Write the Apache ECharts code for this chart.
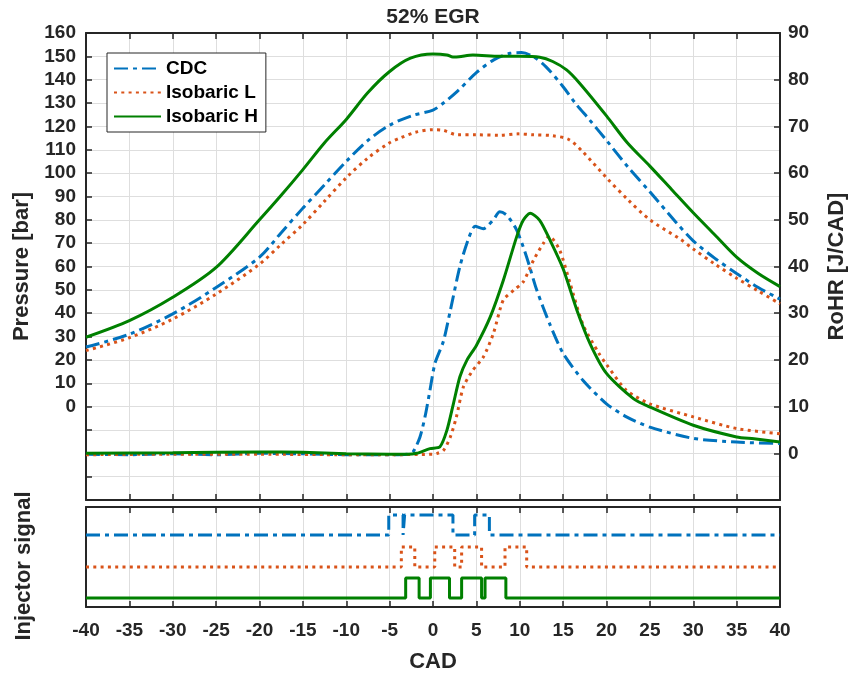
<!DOCTYPE html>
<html><head><meta charset="utf-8">
<script src="https://cdn.jsdelivr.net/npm/echarts@6/dist/echarts.min.js"></script>
<style>html,body{margin:0;padding:0;background:#fff}#c{width:850px;height:673px}</style>
</head><body><div id="c"></div>
<script>
// ---------- DATA ----------
const chartTitle = '52% EGR';
const seriesNames = ['CDC', 'Isobaric L', 'Isobaric H'];
const xLabel = 'CAD';
const yLeftLabel = 'Pressure [bar]';
const yRightLabel = 'RoHR [J/CAD]';
const injLabel = 'Injector signal';

// Pressure [bar] vs CAD
const pCadCDC = [-40,-35,-30,-25,-20,-17.5,-15,-12.5,-10,-7.5,-5,-2.5,0,1.2,2.8,5,7,8.9,10.2,11.5,13,15,16.5,18,20,22.5,25,28,30,32.5,35,37.5,40];
const pCDC    = [25.5,31,39.7,51,64,74.5,85,95,105,114,120.5,124.5,127,130,135,143,148.5,151.3,151.6,150,145.6,137,129.5,123,114,102.5,92,79,71,63.5,57,51,46];

const pCadIsoL = [-40,-35,-30,-25,-20,-17.5,-15,-12.5,-10,-7.5,-5,-3.8,-2,0,1.2,2.8,5,7.7,9.8,11.5,13.8,15.7,17.3,20,22.5,25,28.5,30,32.5,35,37.5,40];
const pIsoL    = [24,29.5,37.5,48.2,61,69.5,78,88,98,106.5,113,115,117.5,118.6,118.3,116.4,116.4,116.2,116.8,116.4,116,114.3,109,98,88.5,80,71.7,67.5,61,55,49.5,44];

const pCadIsoH = [-40,-35,-30,-25,-20,-17.5,-15,-12.5,-10,-7.5,-5,-2.6,0,1.6,2.3,3,4.6,7.7,10,12.3,13.8,15.4,16.9,20,22.4,25,27.5,30,32.5,35,37.5,40];
const pIsoH    = [29.7,36.8,46.8,59.6,80,90.5,101.5,113,123,134.5,143.5,149.2,151,150.6,149.7,149.8,150.6,150,150,149.6,147.8,144.2,138.5,124.5,113,103,93,83,73.5,64,57,51.4];

// RoHR [J/CAD] vs CAD
const rCadCDC = [-40,-35,-30,-25,-20,-15,-10,-5,-3,-2.3,-1.5,-0.9,-0.35,0.23,1.2,2,3.1,4.1,4.85,5.8,6.95,7.7,8.5,9.65,10.8,11.95,13.5,15,17.3,20,22.3,25,30,35,40];
const rCDC    = [-0.2,-0.3,-0.1,-0.3,0,-0.1,-0.3,-0.3,-0.2,0.3,3.5,8,13.5,19.3,24,30.6,40,46,48.6,48.1,50,51.7,51,47.8,42,35,27.5,21.4,15.6,10.6,7.8,5.6,3.2,2.4,2.1];

const rCadIsoL = [-40,-30,-20,-10,-5,0,0.5,1.2,2,2.7,3.5,4.6,5.8,6.95,8.1,9.3,10.4,11.6,12.7,13.4,14.6,15.8,17.3,19.1,20,22.3,25,30,35,40];
const rIsoL    = [-0.3,-0.2,-0.2,-0.3,-0.3,-0.2,0,0.6,3.5,7.8,14.2,17.8,20.6,25.6,32.8,34.9,36.7,41.4,44.9,46.5,43.5,36.4,27.5,21.5,19,13.5,10.6,7.8,5.3,4.2];

const rCadIsoH = [-40,-30,-20,-15,-10,-5,-3,-1.9,-0.35,0.8,1.6,2.35,3.1,3.9,5,6.6,8.1,9.65,10.4,11.2,12.3,13.5,15,16.6,18.1,20,23.1,25,30,35,37,40];
const rIsoH    = [0,0.1,0.3,0.2,-0.1,-0.2,-0.2,0,1,1.4,4.9,10.6,16.4,19.9,23.1,29.2,37,46.4,49.9,51.4,49.9,45.6,39.5,30.6,23.5,17.1,11.7,9.9,6,3.5,3.1,2.4];

// Injector signal: pulse [start, end] in CAD, and [low, high] signal levels
const injPulsesCDC  = [[-5.1,-3.45],[-3.27,2.3],[4.8,6.5]];
const injPulsesIsoL = [[-3.65,-2.1],[0.2,2.5],[3.3,5.6],[8.3,10.8]];
const injPulsesIsoH = [[-3.15,-1.6],[-0.3,1.9],[3.3,5.6],[6.0,8.4]];
const injLevelsCDC  = [72, 92];
const injLevelsIsoL = [40, 60];
const injLevelsIsoH = [9, 29];

const xTicks = { min: -40, max: 40, step: 5 };

// ---------- BUILD ----------
const zip = (xs, ys) => xs.map((x, i) => [x, ys[i]]);
function stepLine(pulses, levels) {
  const lo = levels[0], hi = levels[1];
  const pts = [[xTicks.min, lo]];
  pulses.forEach(([a, b]) => { pts.push([a, lo], [a, hi], [b, hi], [b, lo]); });
  pts.push([xTicks.max, lo]);
  return pts;
}

const FONT = "'Liberation Sans', Arial, sans-serif";
const AX = '#262626';
const GRIDC = '#dedede';
const colors = ['#0072BD', '#D95319', '#008000'];
const lineTypes = [[14, 5, 4, 5], [3, 4.3], 'solid'];
const LW = 3;

function lineSeries(name, idx, data, xi, yi, smooth) {
  return {
    name, type: 'line', xAxisIndex: xi, yAxisIndex: yi, data,
    symbol: 'none', showSymbol: false, smooth: smooth, animation: false,
    lineStyle: { color: colors[idx], width: LW, type: lineTypes[idx], cap: 'butt' },
    itemStyle: { color: colors[idx] },
    z: 2 + idx
  };
}

const lbl = { fontFamily: FONT, fontWeight: 'bold', fontSize: 19, color: AX };
const axLine = { show: true, onZero: false, lineStyle: { color: AX, width: 2 } };
const axTick = { show: true, inside: true, length: 6, lineStyle: { color: AX, width: 1.5 } };

const chart = echarts.init(document.getElementById('c'), null, { renderer: 'canvas' });
chart.setOption({
  backgroundColor: '#fff',
  animation: false,
  grid: [
    { left: 86, top: 33, width: 694, height: 467, containLabel: false, outerBoundsMode: 'none' },
    { left: 86, top: 507, width: 694, height: 100, containLabel: false, outerBoundsMode: 'none' }
  ],
  xAxis: [
    { gridIndex: 0, type: 'value', min: xTicks.min, max: xTicks.max, interval: xTicks.step, position: 'bottom',
      axisLine: axLine, axisTick: axTick,
      axisLabel: { show: false }, splitLine: { show: true, lineStyle: { color: GRIDC, width: 1 } } },
    { gridIndex: 0, type: 'value', min: xTicks.min, max: xTicks.max, interval: xTicks.step, position: 'top',
      axisLine: axLine, axisTick: axTick,
      axisLabel: { show: false }, splitLine: { show: false } },
    { gridIndex: 1, type: 'value', min: xTicks.min, max: xTicks.max, interval: xTicks.step, position: 'bottom',
      name: xLabel, nameLocation: 'middle', nameGap: 44,
      nameTextStyle: { fontFamily: FONT, fontWeight: 'bold', fontSize: 22, color: AX },
      axisLine: axLine, axisTick: axTick,
      axisLabel: Object.assign({ margin: 14 }, lbl), splitLine: { show: true, lineStyle: { color: GRIDC, width: 1 } } },
    { gridIndex: 1, type: 'value', min: xTicks.min, max: xTicks.max, interval: xTicks.step, position: 'top',
      axisLine: axLine, axisTick: axTick,
      axisLabel: { show: false }, splitLine: { show: false } }
  ],
  yAxis: [
    { gridIndex: 0, type: 'value', min: -40, max: 160, interval: 10, position: 'left',
      name: yLeftLabel, nameLocation: 'middle', nameGap: 52,
      nameTextStyle: { fontFamily: FONT, fontWeight: 'bold', fontSize: 22, color: AX },
      axisLine: axLine, axisTick: axTick,
      axisLabel: Object.assign({ margin: 10, formatter: v => (v < 0 ? '' : String(v)) }, lbl),
      splitLine: { show: true, lineStyle: { color: GRIDC, width: 1 } } },
    { gridIndex: 0, type: 'value', min: -10, max: 90, interval: 10, position: 'right',
      name: yRightLabel, nameLocation: 'middle', nameGap: 46,
      nameTextStyle: { fontFamily: FONT, fontWeight: 'bold', fontSize: 22, color: AX },
      axisLine: axLine, axisTick: axTick,
      axisLabel: Object.assign({ margin: 8, formatter: v => (v < 0 ? '' : String(v)) }, lbl),
      splitLine: { show: false } },
    { gridIndex: 1, type: 'value', min: 0, max: 100, position: 'left',
      axisLine: axLine, axisTick: { show: false }, axisLabel: { show: false }, splitLine: { show: false } },
    { gridIndex: 1, type: 'value', min: 0, max: 100, position: 'right',
      axisLine: axLine, axisTick: { show: false }, axisLabel: { show: false }, splitLine: { show: false } }
  ],
  legend: {
    data: seriesNames, orient: 'vertical', left: 107, top: 53,
    itemWidth: 47, itemHeight: 10, itemGap: 5,
    padding: [6, 8, 6, 6],
    backgroundColor: '#fff', borderColor: AX, borderWidth: 1, borderRadius: 0,
    itemStyle: { opacity: 0 },
    textStyle: { fontFamily: FONT, fontWeight: 'bold', fontSize: 19, color: '#000' },
    selectedMode: false
  },
  graphic: [
    { type: 'text', x: 433, y: 17, style: { text: chartTitle, fontFamily: FONT, fontWeight: 'bold', fontSize: 21, fill: AX, textAlign: 'center', textVerticalAlign: 'middle' } },
    { type: 'text', x: 24, y: 566, rotation: Math.PI / 2, style: { text: injLabel, fontFamily: FONT, fontWeight: 'bold', fontSize: 22, fill: AX, textAlign: 'center', textVerticalAlign: 'middle' } }
  ],
  series: [
    lineSeries(seriesNames[0], 0, zip(pCadCDC, pCDC), 0, 0, 0.3),
    lineSeries(seriesNames[1], 1, zip(pCadIsoL, pIsoL), 0, 0, 0.3),
    lineSeries(seriesNames[2], 2, zip(pCadIsoH, pIsoH), 0, 0, 0.3),
    lineSeries(seriesNames[0], 0, zip(rCadCDC, rCDC), 0, 1, 0.25),
    lineSeries(seriesNames[1], 1, zip(rCadIsoL, rIsoL), 0, 1, 0.25),
    lineSeries(seriesNames[2], 2, zip(rCadIsoH, rIsoH), 0, 1, 0.25),
    lineSeries(seriesNames[0], 0, stepLine(injPulsesCDC, injLevelsCDC), 2, 2, false),
    lineSeries(seriesNames[1], 1, stepLine(injPulsesIsoL, injLevelsIsoL), 2, 2, false),
    lineSeries(seriesNames[2], 2, stepLine(injPulsesIsoH, injLevelsIsoH), 2, 2, false)
  ]
});
</script>
</body></html>
